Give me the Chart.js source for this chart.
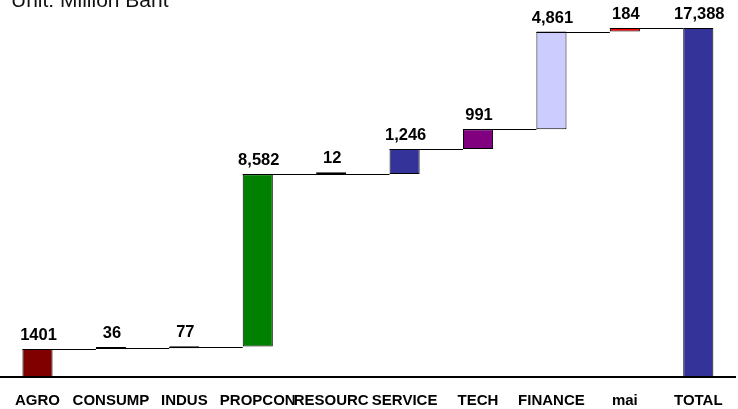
<!DOCTYPE html>
<html>
<head>
<meta charset="utf-8">
<script src="https://cdn.jsdelivr.net/npm/chart.js@4/dist/chart.umd.min.js"></script>
<style>
  html, body { margin: 0; padding: 0; background: #fff; }
  #wrap { width: 738px; height: 409px; position: relative; }
</style>
</head>
<body>
<div id="wrap"><canvas id="c"></canvas></div>
<script>
// ---- Data ----
const categories = ["AGRO", "CONSUMP", "INDUS", "PROPCON", "RESOURC", "SERVICE", "TECH", "FINANCE", "mai", "TOTAL"];
const values = [1401, 36, 77, 8582, 12, 1246, 991, 4861, 184, 17388];
const valueLabels = ["1401", "36", "77", "8,582", "12", "1,246", "991", "4,861", "184", "17,388"];
const barColors = ["#800000", "#333333", "#333300", "#008000", "#000000", "#333399", "#800080", "#CCCCFF", "#FF0000", "#333399"];
const unitText = "Unit: Million Baht";

// Floating bars for the waterfall, built from the values
const floating = [];
const cumulative = [];
let run = 0;
values.forEach((v, i) => {
  if (i === values.length - 1) {
    floating.push([0, v]);
    cumulative.push(v);
  } else {
    floating.push([run, run + v]);
    run += v;
    cumulative.push(run);
  }
});

const waterfallPlugin = {
  id: 'waterfallExtras',
  afterDatasetsDraw(chart) {
    const ctx = chart.ctx;
    const meta = chart.getDatasetMeta(0);
    const yScale = chart.scales.y;
    ctx.save();
    // connector lines
    ctx.strokeStyle = '#000';
    ctx.lineWidth = 1;
    for (let i = 0; i < meta.data.length - 1; i++) {
      const a = meta.data[i], b = meta.data[i + 1];
      const y = Math.round(yScale.getPixelForValue(cumulative[i])) + 0.5;
      ctx.beginPath();
      ctx.moveTo(a.x - a.width / 2, y);
      ctx.lineTo(b.x - b.width / 2, y);
      ctx.stroke();
    }
    // value labels
    ctx.fillStyle = '#000';
    ctx.font = 'bold 16.5px "Liberation Sans", Arial, sans-serif';
    ctx.textAlign = 'center';
    ctx.textBaseline = 'alphabetic';
    meta.data.forEach((el, i) => {
      const top = Math.min(el.y, el.base);
      ctx.fillText(valueLabels[i], el.x + 1, top - 9);
    });
    // unit caption
    ctx.font = '21px "Liberation Sans", Arial, sans-serif';
    ctx.textAlign = 'left';
    ctx.fillStyle = '#111';
    ctx.fillText(unitText, 11, 7);
    ctx.restore();
  }
};

new Chart(document.getElementById('c'), {
  type: 'bar',
  data: {
    labels: categories,
    datasets: [{
      data: floating,
      backgroundColor: barColors,
      borderColor: '#000',
      borderWidth: 1,
      borderSkipped: false,
      barPercentage: 0.41,
      categoryPercentage: 1,
      minBarLength: 2
    }]
  },
  options: {
    responsive: true,
    maintainAspectRatio: false,
    animation: false,
    layout: { padding: { top: 0, left: 0, right: 3, bottom: -16 } },
    plugins: { legend: { display: false }, tooltip: { enabled: false } },
    scales: {
      x: {
        grid: { display: false, drawTicks: false },
        border: { display: true, color: '#000', width: 2 },
        ticks: {
          autoSkip: false,
          maxRotation: 0,
          minRotation: 0,
          padding: 15,
          color: '#000',
          font: { family: '"Liberation Sans", Arial, sans-serif', size: 15, weight: 'bold' }
        }
      },
      y: {
        display: false,
        min: 0,
        max: 18780
      }
    }
  },
  plugins: [waterfallPlugin]
});
</script>
</body>
</html>
